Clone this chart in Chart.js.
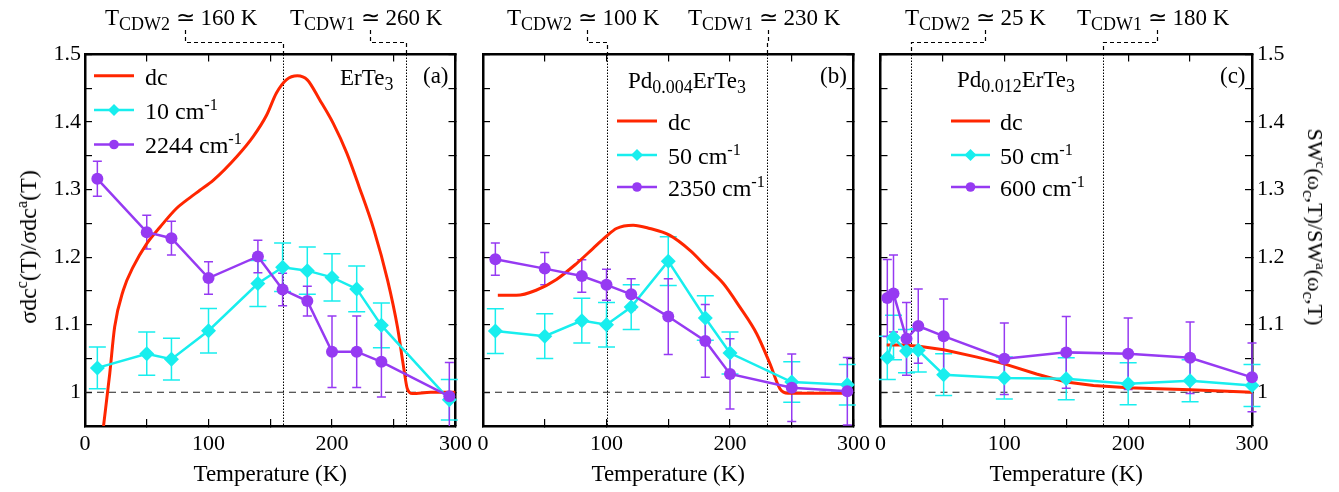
<!DOCTYPE html>
<html>
<head>
<meta charset="utf-8">
<script src="https://cdn.jsdelivr.net/npm/chart.js@4.4.1/dist/chart.umd.min.js"></script>
<style>
  html, body { margin: 0; padding: 0; background: #fff; font-family: "Liberation Serif", "Times New Roman", Tinos, Times, serif; }
  #wrap { position: relative; width: 1339px; height: 492px; overflow: hidden; }
  #wrap canvas { position: absolute; left: 0; top: 0; }
  .lbl { position: absolute; white-space: nowrap; font-family: "Liberation Serif", "Times New Roman", Tinos, Times, serif; color: #000; line-height: 1; }
  .sub { font-size: 0.78em; position: relative; top: 0.28em; }
  .sup { font-size: 0.68em; position: relative; top: -0.55em; }
</style>
</head>
<body>
<div id="wrap">
  <canvas id="chartA" width="1339" height="492"></canvas>
  <canvas id="chartB" width="1339" height="492"></canvas>
  <canvas id="chartC" width="1339" height="492"></canvas>
  <div id="labels"></div>
</div>
<script>
// Ejes comunes
const xTicks = [0, 50, 100, 150, 200, 250, 300];
const xTickLabels = ['0', '', '100', '', '200', '', '300'];
const yTicks = [0.95, 1.0, 1.05, 1.1, 1.15, 1.2, 1.25, 1.3, 1.35, 1.4, 1.45, 1.5];
const yTickLabels = ['', '1', '', '1.1', '', '1.2', '', '1.3', '', '1.4', '', '1.5'];

// (a) ErTe3
const aTemps = [10, 50, 70, 100, 140, 160, 180, 200, 220, 240, 295];
const a10 = [1.036, 1.057, 1.049, 1.091, 1.161, 1.185, 1.180, 1.170, 1.153, 1.099, 0.989];
const a10Err = [0.031, 0.032, 0.031, 0.033, 0.034, 0.036, 0.035, 0.035, 0.034, 0.033, 0.030];
const a2244 = [1.316, 1.237, 1.228, 1.169, 1.201, 1.152, 1.135, 1.060, 1.060, 1.045, 0.994];
const a2244Err = [0.026, 0.025, 0.025, 0.024, 0.024, 0.024, 0.022, 0.053, 0.053, 0.052, 0.050];
const aDcTemps = [15, 20, 24, 31, 39, 50, 61, 74, 82, 93, 104, 123, 136, 147, 155, 163, 172, 180, 190, 201, 212, 222, 234, 245, 253, 258, 261, 265, 280, 300];
const aDc = [0.95, 1.027, 1.0965, 1.151, 1.1855, 1.220, 1.245, 1.272, 1.284, 1.299, 1.314, 1.349, 1.378, 1.41, 1.443, 1.4625, 1.4685, 1.4625, 1.433, 1.398, 1.354, 1.304, 1.24, 1.166, 1.0965, 1.037, 1.005, 0.998, 1.0, 1.0];
const aCdw = [160, 260];

// (b) Pd0.004ErTe3
const bTemps = [10, 50, 80, 100, 120, 150, 180, 200, 250, 295];
const b50 = [1.0905, 1.083, 1.106, 1.100, 1.126, 1.194, 1.110, 1.058, 1.015, 1.011];
const b50Err = [0.033, 0.033, 0.033, 0.033, 0.033, 0.036, 0.033, 0.031, 0.030, 0.030];
const b2350 = [1.197, 1.183, 1.172, 1.159, 1.145, 1.112, 1.076, 1.027, 1.0065, 1.0015];
const b2350Err = [0.024, 0.024, 0.024, 0.023, 0.023, 0.056, 0.054, 0.052, 0.050, 0.050];
const bDcTemps = [12, 27, 43, 59.5, 75.7, 89, 100, 108, 121.6, 135, 151, 167.6, 181, 194.6, 208, 221.6, 232.4, 240.5, 247, 297];
const bDc = [1.1435, 1.1435, 1.151, 1.167, 1.1905, 1.2127, 1.231, 1.2424, 1.2473, 1.2424, 1.2325, 1.210, 1.1855, 1.161, 1.126, 1.0866, 1.042, 1.005, 0.9985, 0.9985];
const bCdw = [100, 230];

// (c) Pd0.012ErTe3
const cTemps = [5.5, 10.5, 21, 30.5, 51, 100, 150, 200, 250, 300];
const c50 = [1.051, 1.081, 1.061, 1.062, 1.026, 1.021, 1.020, 1.0125, 1.017, 1.010];
const c50Err = [0.032, 0.033, 0.032, 0.032, 0.031, 0.031, 0.031, 0.031, 0.031, 0.031];
const c600 = [1.1395, 1.146, 1.079, 1.098, 1.083, 1.0495, 1.059, 1.057, 1.051, 1.022];
const c600Err = [0.057, 0.057, 0.054, 0.055, 0.055, 0.053, 0.053, 0.053, 0.053, 0.051];
const cDcTemps = [5, 18, 31, 51, 78, 100, 126, 150, 172, 200, 250, 300];
const cDc = [1.070, 1.070, 1.068, 1.063, 1.052, 1.042, 1.027, 1.015, 1.010, 1.0065, 1.0035, 1.0];
const cCdw = [25, 180];

const W = 1339, H = 492;
const FONT = '"Liberation Serif", "Times New Roman", Tinos, Times, serif';
const RED = 'rgb(255,38,0)';
const CYAN = 'rgb(24,238,238)';
const PURPLE = 'rgb(150,58,242)';

Chart.defaults.font.family = FONT;

// Textos en HTML (sub/superíndices)
const labelsEl = document.getElementById('labels');
function addLabel(html, x, baseline, size) {
    const d = document.createElement('div');
    d.className = 'lbl';
    d.innerHTML = html;
    d.style.fontSize = size + 'px';
    d.style.left = x + 'px';
    d.style.top = (baseline - 0.8375 * size) + 'px';
    labelsEl.appendChild(d);
    return d;
}
function addRotated(html, cx, cy, size, deg) {
    const d = document.createElement('div');
    d.className = 'lbl';
    d.innerHTML = html;
    d.style.fontSize = size + 'px';
    d.style.left = cx + 'px';
    d.style.top = cy + 'px';
    d.style.transform = 'translate(-50%, -50%) rotate(' + deg + 'deg)';
    labelsEl.appendChild(d);
    return d;
}
function cdwLabel(n, temp, x) {
    const d = addLabel('T<span class="sub">CDW' + n + '</span> <span class="eq">≃</span> ' + temp + ' K', x, 25, 23);
    return d.querySelector('.eq');
}
const cm = ' cm<span class="sup">-1</span>';

const panels = [
    {
        id: 'chartA', area: { left: 85, right: 455.5, top: 54.5, bottom: 426 }, cdw: aCdw,
        dc: [aDcTemps, aDc, true], ir1: [aTemps, a10, a10Err], ir2: [aTemps, a2244, a2244Err],
        names: ['dc', '10' + cm, '2244' + cm],
        legend: { x0: 94, x1: 134, textX: 145, rows: [75.7, 110, 144.5] },
        hooks: [cdwLabel(2, 160, 105), cdwLabel(1, 260, 290)],
        leftLabels: true, rightLabels: false
    },
    {
        id: 'chartB', area: { left: 483, right: 853.5, top: 54.5, bottom: 426 }, cdw: bCdw,
        dc: [bDcTemps, bDc, true], ir1: [bTemps, b50, b50Err], ir2: [bTemps, b2350, b2350Err],
        names: ['dc', '50' + cm, '2350' + cm],
        legend: { x0: 617, x1: 657, textX: 668, rows: [121, 155, 187] },
        hooks: [cdwLabel(2, 100, 507), cdwLabel(1, 230, 688)],
        leftLabels: false, rightLabels: false
    },
    {
        id: 'chartC', area: { left: 880.5, right: 1252, top: 54.5, bottom: 426 }, cdw: cCdw,
        dc: [cDcTemps, cDc, false], ir1: [cTemps, c50, c50Err], ir2: [cTemps, c600, c600Err],
        names: ['dc', '50' + cm, '600' + cm],
        legend: { x0: 951, x1: 990, textX: 1000, rows: [121, 155, 187] },
        hooks: [cdwLabel(2, 25, 905), cdwLabel(1, 180, 1077)],
        leftLabels: false, rightLabels: true
    }
];

addLabel('ErTe<span class="sub">3</span>', 340, 85, 23);
addLabel('(a)', 423, 83, 23);
addLabel('Pd<span class="sub">0.004</span>ErTe<span class="sub">3</span>', 628, 88, 23);
addLabel('(b)', 820, 83, 23);
addLabel('Pd<span class="sub">0.012</span>ErTe<span class="sub">3</span>', 957, 87, 23);
addLabel('(c)', 1220, 83, 23);
addRotated('σdc<span class="sup">c</span>(T)/σdc<span class="sup">a</span>(T)', 28, 247, 24, -90);
addRotated('SW<span class="sup">c</span>(ω<span class="sub">c</span>,T)/SW<span class="sup">a</span>(ω<span class="sub">c</span>,T)', 1314.5, 227, 22, 90);

panels.forEach(p => {
    p.names.forEach((n, i) => addLabel(n, p.legend.textX, p.legend.rows[i] + 9, 24));
});

function pts(xs, ys) {
    return xs.map((x, i) => ({ x: x, y: ys[i] }));
}

function drawMarker(ctx, style, x, y, r) {
    ctx.beginPath();
    if (style === 'rectRot') {
        ctx.moveTo(x, y - r); ctx.lineTo(x + r, y); ctx.lineTo(x, y + r); ctx.lineTo(x - r, y);
        ctx.closePath();
    } else {
        ctx.arc(x, y, r, 0, Math.PI * 2);
    }
    ctx.fill();
}

// Plugin: líneas de referencia, barras de error, leyenda y conectores
function decorPlugin(p) {
    return {
        id: 'decor',
        beforeDatasetsDraw(chart) {
            const { ctx, chartArea: a, scales } = chart;
            const xs = scales.x, ys = scales.y;
            ctx.save();
            ctx.strokeStyle = '#000';
            ctx.lineWidth = 1;
            ctx.setLineDash([1.5, 1.5]);
            p.cdw.forEach(t => {
                const px = Math.round(xs.getPixelForValue(t)) + 0.5;
                ctx.beginPath(); ctx.moveTo(px, a.top); ctx.lineTo(px, a.bottom); ctx.stroke();
            });
            ctx.setLineDash([7, 5]);
            ctx.strokeStyle = '#222';
            ctx.lineWidth = 1.2;
            const one = ys.getPixelForValue(1);
            ctx.beginPath(); ctx.moveTo(a.left, one); ctx.lineTo(a.right, one); ctx.stroke();
            ctx.setLineDash([]);
            ctx.beginPath(); ctx.rect(0, a.top, chart.width, a.bottom - a.top); ctx.clip();
            chart.data.datasets.forEach((ds, i) => {
                if (!ds.errors) return;
                const meta = chart.getDatasetMeta(i);
                ctx.strokeStyle = ds.borderColor;
                ctx.lineWidth = 1.5;
                meta.data.forEach((pt, j) => {
                    const v = ds.data[j].y, e = ds.errors[j];
                    const top = ys.getPixelForValue(v + e), bot = ys.getPixelForValue(v - e);
                    const c = ds.capHalf;
                    ctx.beginPath();
                    ctx.moveTo(pt.x, top); ctx.lineTo(pt.x, bot);
                    ctx.moveTo(pt.x - c, top); ctx.lineTo(pt.x + c, top);
                    ctx.moveTo(pt.x - c, bot); ctx.lineTo(pt.x + c, bot);
                    ctx.stroke();
                });
            });
            ctx.restore();
        },
        afterDraw(chart) {
            const { ctx, chartArea: a, scales } = chart;
            const lg = p.legend;
            ctx.save();
            // leyenda
            chart.data.datasets.forEach((ds, i) => {
                const y = lg.rows[i];
                ctx.strokeStyle = ds.borderColor;
                ctx.lineWidth = ds.borderWidth;
                ctx.beginPath(); ctx.moveTo(lg.x0, y); ctx.lineTo(lg.x1, y); ctx.stroke();
                if (ds.pointRadius > 0) {
                    ctx.fillStyle = ds.borderColor;
                    drawMarker(ctx, ds.pointStyle, (lg.x0 + lg.x1) / 2, y, ds.pointRadius * 0.8);
                }
            });
            // conectores de T_CDW
            const wrapBox = document.getElementById('wrap').getBoundingClientRect();
            ctx.strokeStyle = '#000';
            ctx.lineWidth = 1.2;
            ctx.setLineDash([4, 3]);
            p.hooks.forEach((el, k) => {
                const r = el.getBoundingClientRect();
                const hx = Math.round(r.left - wrapBox.left + r.width / 2) + 0.5;
                const px = Math.round(scales.x.getPixelForValue(p.cdw[k])) + 0.5;
                ctx.beginPath();
                ctx.moveTo(hx, 30); ctx.lineTo(hx, 42.5); ctx.lineTo(px, 42.5); ctx.lineTo(px, a.top);
                ctx.stroke();
            });
            ctx.restore();
        }
    };
}

function fixBox(scale, prop, size) {
    scale[prop] = size;
    scale.paddingLeft = 0; scale.paddingRight = 0; scale.paddingTop = 0; scale.paddingBottom = 0;
}

const tickFont = { family: FONT, size: 22 };
const gridOpts = { drawOnChartArea: false, drawTicks: true, tickLength: -7, color: '#000', lineWidth: 1.2 };
const borderOpts = { display: true, color: '#000', width: 2.5 };

function xAxis(pos, size, showLabels) {
    return {
        type: 'linear', position: pos, min: 0, max: 300,
        afterBuildTicks: s => { s.ticks = xTicks.map(v => ({ value: v })); },
        afterFit: s => fixBox(s, 'height', size),
        ticks: { display: showLabels, autoSkip: false, maxRotation: 0, callback: (v, i) => xTickLabels[i], font: tickFont, color: '#000', padding: 12 },
        grid: gridOpts, border: borderOpts,
        title: { display: showLabels, text: 'Temperature (K)', font: { family: FONT, size: 23 }, color: '#000', padding: { top: 0, bottom: 3 } }
    };
}
function yAxis(pos, size, showLabels) {
    return {
        type: 'linear', position: pos, min: 0.95, max: 1.5,
        afterBuildTicks: s => { s.ticks = yTicks.map(v => ({ value: v })); },
        afterFit: s => fixBox(s, 'width', size),
        ticks: { display: showLabels, autoSkip: false, callback: (v, i) => yTickLabels[i], font: tickFont, color: '#000', padding: pos === 'left' ? 11 : 12 },
        grid: gridOpts, border: borderOpts
    };
}

function createPanel(p) {
    const datasets = [
        {
            label: 'dc', data: pts(p.dc[0], p.dc[1]), borderColor: RED, backgroundColor: RED,
            borderWidth: 3, pointRadius: 0, cubicInterpolationMode: p.dc[2] ? 'monotone' : 'default',
            tension: 0, order: 3
        },
        {
            label: 'ir1', data: pts(p.ir1[0], p.ir1[1]), errors: p.ir1[2], capHalf: 8.5,
            borderColor: CYAN, backgroundColor: CYAN, borderWidth: 2.5,
            pointStyle: 'rectRot', pointRadius: 7.5, pointBorderWidth: 0, clip: false, order: 2
        },
        {
            label: 'ir2', data: pts(p.ir2[0], p.ir2[1]), errors: p.ir2[2], capHalf: 4.5,
            borderColor: PURPLE, backgroundColor: PURPLE, borderWidth: 2.5,
            pointStyle: 'circle', pointRadius: 6, pointBorderWidth: 0, clip: false, order: 1
        }
    ];
    return new Chart(document.getElementById(p.id), {
        type: 'line',
        data: { datasets: datasets },
        options: {
            responsive: false,
            animation: false,
            events: [],
            devicePixelRatio: 1,
            layout: { padding: 0 },
            plugins: { legend: { display: false }, tooltip: { enabled: false } },
            scales: {
                x: xAxis('bottom', H - p.area.bottom, true),
                xTop: xAxis('top', p.area.top, false),
                y: yAxis('left', p.area.left, p.leftLabels),
                yRight: yAxis('right', W - p.area.right, p.rightLabels)
            }
        },
        plugins: [decorPlugin(p)]
    });
}

panels.forEach(createPanel);
</script>
</body>
</html>
